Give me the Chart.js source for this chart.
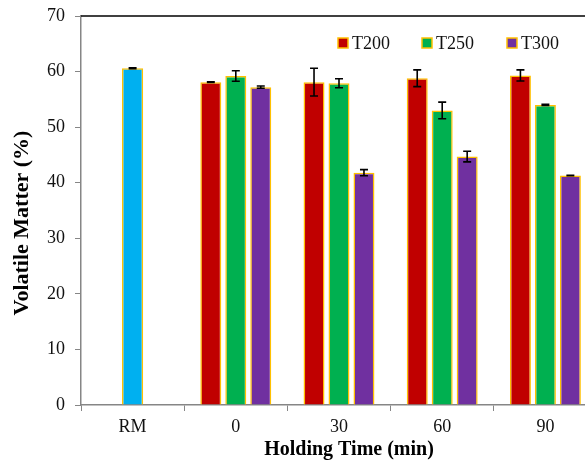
<!DOCTYPE html>
<html>
<head>
<meta charset="utf-8">
<title>Volatile Matter</title>
<script src="https://cdn.jsdelivr.net/npm/chart.js@4.4.0/dist/chart.umd.min.js"></script>
<style>
  html, body { margin: 0; padding: 0; background: #fff; overflow: hidden; }
  #wrap { width: 600px; height: 464px; }
</style>
</head>
<body>
<div id="wrap"><canvas id="vmChart" width="600" height="464"></canvas></div>
<script>
// DATA
const categories = ['RM', '0', '30', '60', '90'];

const rmValues   = [60.6, null, null, null, null];
const rmErrors   = [0.08, null, null, null, null];

const t200Values = [null, 58.1, 58.1, 58.8, 59.3];
const t200Errors = [null, 0.08, 2.5, 1.5, 1.0];

const t250Values = [null, 59.2, 57.9, 53.0, 54.0];
const t250Errors = [null, 0.95, 0.8, 1.5, 0.1];

const t300Values = [null, 57.2, 41.8, 44.7, 41.3];
const t300Errors = [null, 0.2, 0.55, 0.95, 0.05];

const yTicks = [0, 10, 20, 30, 40, 50, 60, 70];

const xTitle = 'Holding Time (min)';
const yTitle = 'Volatile Matter (%)';

const serif = "'Liberation Serif', 'Times New Roman', serif";
const gold = '#FFC000';
const axisGray = '#868686';

// error bars drawn on top of each bar
const errorBars = {
    id: 'errorBars',
    afterDatasetsDraw(chart) {
        const ctx = chart.ctx;
        const yScale = chart.scales.y;
        chart.data.datasets.forEach((ds, i) => {
            const meta = chart.getDatasetMeta(i);
            ds.data.forEach((v, j) => {
                const err = ds.errors[j];
                if (v === null || err === null) return;
                const bar = meta.data[j];
                const top = yScale.getPixelForValue(v + err);
                const bottom = yScale.getPixelForValue(v - err);
                ctx.save();
                ctx.strokeStyle = '#000';
                ctx.lineWidth = 1.6;
                ctx.beginPath();
                ctx.moveTo(bar.x, top);
                ctx.lineTo(bar.x, bottom);
                ctx.moveTo(bar.x - 4, top);
                ctx.lineTo(bar.x + 4, top);
                ctx.moveTo(bar.x - 4, bottom);
                ctx.lineTo(bar.x + 4, bottom);
                ctx.stroke();
                ctx.restore();
            });
        });
    }
};

// black line along the top of the plot area, plus the axis titles
const frameAndTitles = {
    id: 'frameAndTitles',
    afterDraw(chart) {
        const {ctx, chartArea} = chart;
        ctx.save();
        ctx.strokeStyle = '#000';
        ctx.lineWidth = 1.5;
        ctx.beginPath();
        ctx.moveTo(chartArea.left, chartArea.top);
        ctx.lineTo(chartArea.right + 5, chartArea.top);
        ctx.stroke();

        ctx.fillStyle = '#000';
        ctx.textAlign = 'center';
        ctx.textBaseline = 'middle';
        ctx.font = 'bold 20px ' + serif;
        ctx.fillText(xTitle, 349, 450);

        ctx.translate(22, 223);
        ctx.rotate(-Math.PI / 2);
        ctx.font = 'bold 22px ' + serif;
        ctx.fillText(yTitle, 0, 0);
        ctx.restore();
    }
};

// legend sits inside the plot, upper right
const innerLegend = {
    id: 'innerLegend',
    afterDraw(chart) {
        const ctx = chart.ctx;
        const xs = [338, 422, 507];
        const y = 43;
        ctx.save();
        ctx.font = '18px ' + serif;
        ctx.textBaseline = 'middle';
        chart.data.datasets.slice(1).forEach((ds, i) => {
            ctx.fillStyle = ds.backgroundColor;
            ctx.fillRect(xs[i], y - 5, 10, 10);
            ctx.strokeStyle = gold;
            ctx.lineWidth = 1.5;
            ctx.strokeRect(xs[i], y - 5, 10, 10);
            ctx.fillStyle = '#111';
            ctx.fillText(ds.label, xs[i] + 14, y + 1);
        });
        ctx.restore();
    }
};

const groupBar = { categoryPercentage: 0.726, barPercentage: 0.84 };

const barData = {
    labels: categories,
    datasets: [{
        label: 'RM',
        data: rmValues,
        errors: rmErrors,
        backgroundColor: '#00B0F0',
        categoryPercentage: 1,
        barPercentage: 0.205
    }, {
        label: 'T200',
        data: t200Values,
        errors: t200Errors,
        backgroundColor: '#C00000',
        ...groupBar
    }, {
        label: 'T250',
        data: t250Values,
        errors: t250Errors,
        backgroundColor: '#00B050',
        ...groupBar
    }, {
        label: 'T300',
        data: t300Values,
        errors: t300Errors,
        backgroundColor: '#7030A0',
        ...groupBar
    }]
};

const barConfig = {
    type: 'bar',
    data: barData,
    options: {
        responsive: false,
        animation: false,
        layout: { padding: { top: 16, right: 3, left: 0, bottom: 0 } },
        datasets: {
            bar: {
                skipNull: true,
                borderColor: gold,
                borderWidth: 1.5,
                borderSkipped: 'start'
            }
        },
        scales: {
            x: {
                afterFit: (scale) => {
                    scale.height = 59;
                    scale.paddingLeft = 0;
                    scale.paddingRight = 0;
                },
                grid: {
                    offset: true,
                    drawOnChartArea: false,
                    tickLength: 6,
                    color: axisGray
                },
                border: { color: axisGray, width: 1.5 },
                ticks: {
                    color: '#111',
                    padding: 5,
                    font: { family: serif, size: 18 }
                }
            },
            y: {
                min: 0,
                max: 70,
                afterFit: (scale) => {
                    scale.width = 81;
                    scale.paddingTop = 0;
                    scale.paddingBottom = 0;
                },
                afterBuildTicks: (scale) => {
                    scale.ticks = yTicks.map(v => ({ value: v }));
                },
                grid: {
                    drawOnChartArea: false,
                    tickLength: 6,
                    color: axisGray
                },
                border: { color: axisGray, width: 1.5 },
                ticks: {
                    color: '#111',
                    padding: 10,
                    font: { family: serif, size: 18 }
                }
            }
        },
        plugins: {
            legend: { display: false },
            tooltip: { enabled: false }
        }
    },
    plugins: [errorBars, frameAndTitles, innerLegend]
};

let vmChart = new Chart(
    document.getElementById('vmChart'),
    barConfig
);
</script>
</body>
</html>
